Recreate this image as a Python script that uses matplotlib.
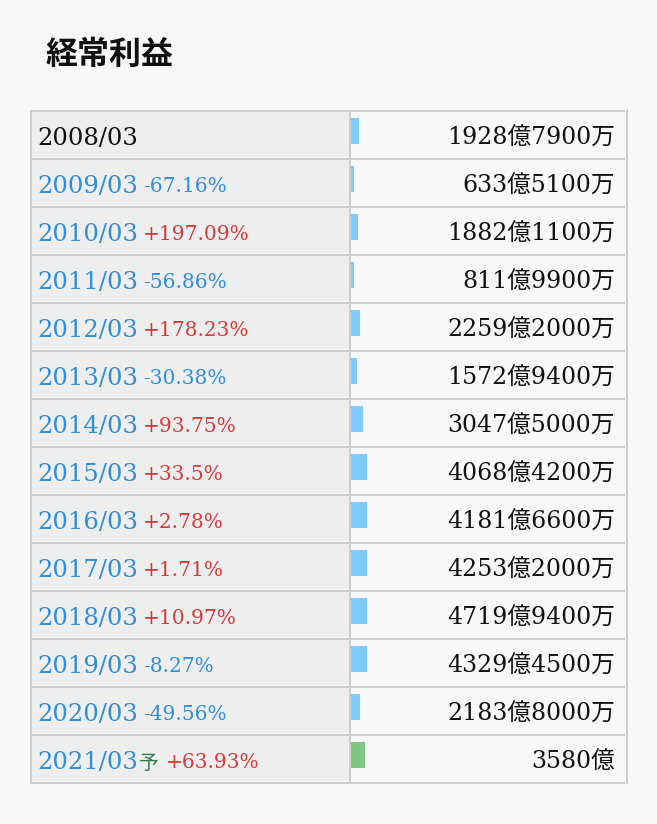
import matplotlib
matplotlib.use("Agg")
import matplotlib.pyplot as plt
from matplotlib.patches import Rectangle

# ---- data ----
periods = ['2008/03', '2009/03', '2010/03', '2011/03', '2012/03', '2013/03', '2014/03',
           '2015/03', '2016/03', '2017/03', '2018/03', '2019/03', '2020/03', '2021/03']
values_oku = [1928.79, 633.51, 1882.11, 811.99, 2259.20, 1572.94, 3047.50,
              4068.42, 4181.66, 4253.20, 4719.94, 4329.45, 2183.80, 3580.0]
changes = [None, -67.16, 197.09, -56.86, 178.23, -30.38, 93.75,
           33.5, 2.78, 1.71, 10.97, -8.27, -49.56, 63.93]
forecast = [False] * 13 + [True]
title = '経常利益'

# ---- style ----
W, H = 657, 824
BG = '#f8f8f8'
CELL = '#eeeeee'
GRID = '#cccccc'
BLUE = '#2f8fdc'
RED = '#d63b3b'
GREEN_TXT = '#2e7d4f'
BAR_BLUE = '#7dcbff'
BAR_GREEN = '#80c783'
FAM = ['DejaVu Serif', 'Noto Sans CJK JP']

TOP, ROW_H = 110, 48
LEFT, SEP, RIGHT = 30, 350, 627
n = len(periods)
BOTTOM = TOP + ROW_H * n

fig = plt.figure(figsize=(W / 100, H / 100), dpi=100, facecolor=BG)
ax = fig.add_axes([0, 0, 1, 1])
ax.set_xlim(0, W)
ax.set_ylim(H, 0)
ax.axis('off')
ax.set_facecolor(BG)

lw = 2 * 72 / 100

# title
ax.text(46, 55, title, family=['Noto Sans CJK JP'], fontweight='bold',
        fontsize=23, color='#111111', va='center', ha='left')

# table cells
for i in range(n):
    top = TOP + i * ROW_H
    ax.add_patch(Rectangle((LEFT + 1, top + 2), SEP - LEFT - 2, ROW_H - 3,
                           facecolor=CELL, edgecolor='none', zorder=1))
for i in range(n + 1):
    y = TOP + i * ROW_H + 1
    ax.plot([LEFT, RIGHT - 2], [y, y], color=GRID, lw=lw, solid_capstyle='butt', zorder=2)
ax.plot([LEFT + 1, LEFT + 1], [TOP, BOTTOM + 2], color=GRID, lw=lw, solid_capstyle='butt', zorder=2)
ax.plot([SEP, SEP], [TOP, BOTTOM + 1], color=GRID, lw=lw, solid_capstyle='butt', zorder=2)
ax.plot([RIGHT, RIGHT], [TOP, BOTTOM + 2], color=GRID, lw=lw, solid_capstyle='butt', zorder=2)


def fmt_value(v):
    oku = int(v)
    man = int(round((v - oku) * 10000))
    return f'{oku}億{man}万' if man else f'{oku}億'


fig.canvas.draw()
renderer = fig.canvas.get_renderer()

for i in range(n):
    base = TOP + i * ROW_H + 35
    col = '#111111' if changes[i] is None else BLUE
    t = ax.text(37, base, periods[i], family=FAM, fontsize=17.5, color=col,
                va='baseline', ha='left', zorder=3)
    x_end = t.get_window_extent(renderer).x1
    if forecast[i]:
        t2 = ax.text(x_end + 1, base, '予', family=['Noto Sans CJK JP'], fontsize=14,
                     color=GREEN_TXT, va='baseline', ha='left', zorder=3)
        x_end = t2.get_window_extent(renderer).x1 + 3
    if changes[i] is not None:
        c = changes[i]
        ax.text(x_end + 5, base - 1, f'{c:+g}%', family=FAM, fontsize=14.5,
                color=RED if c > 0 else BLUE, va='baseline', ha='left', zorder=3)
    ax.text(615, base, fmt_value(values_oku[i]), family=FAM, fontsize=17,
            color='#111111', va='baseline', ha='right', zorder=3)

# bars (clipped to a narrow column)
bx0, bw = 351, 16
bax = fig.add_axes([bx0 / W, (H - BOTTOM) / H, bw / W, (BOTTOM - TOP) / H])
bax.set_xlim(0, 4050)
bax.set_ylim(BOTTOM, TOP)
bax.axis('off')
bax.patch.set_alpha(0)
ys = [TOP + i * ROW_H + 8 + 13 for i in range(n)]
cols = [BAR_GREEN if f else BAR_BLUE for f in forecast]
bax.barh(ys, values_oku, height=26, color=cols, edgecolor='none')

fig.savefig('out.png', dpi=100, facecolor=BG)
